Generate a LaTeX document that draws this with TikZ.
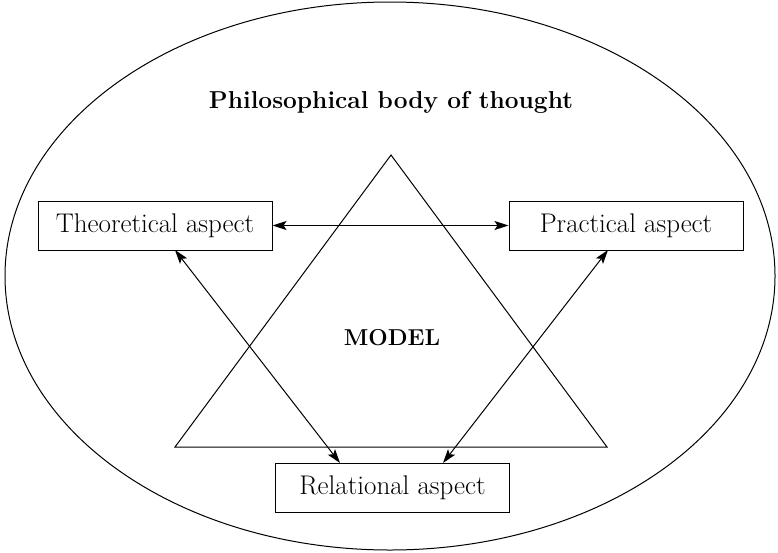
\documentclass[tikz,border=0pt]{standalone}
\usetikzlibrary{arrows.meta}
\begin{document}
\begin{tikzpicture}[x=1pt,y=-1pt,
  line width=1pt,
  aspectbox/.style={draw, minimum width=234pt, minimum height=49pt, inner sep=0pt, font=\fontsize{27}{31}\selectfont},
  titlelabel/.style={font=\fontsize{24.5}{29}\selectfont\bfseries},
  modellabel/.style={font=\fontsize{23}{27}\selectfont\bfseries},
  biarrow/.style={{Stealth[length=14pt,width=9pt,inset=3pt]}-{Stealth[length=14pt,width=9pt,inset=3pt]}}]
\useasboundingbox (0,0) rectangle (778,552);
\draw (390,276) ellipse [x radius=385, y radius=274];
\draw (391,155) -- (607,447) -- (175,447) -- cycle;
\node[titlelabel] (title) at (391,102) {Philosophical body of thought};
\node[modellabel] (model) at (392,338) {MODEL};
\node[aspectbox] (theo) at (155,225.5) {Theoretical aspect};
\node[aspectbox] (prac) at (626,225.5) {Practical aspect};
\node[aspectbox] (rel) at (392.5,488) {Relational aspect};
\coordinate (t1) at (175,250);
\coordinate (r1) at (340,463);
\coordinate (p1) at (608,250);
\coordinate (r2) at (443,463);
\draw[biarrow] (theo.east) -- (prac.west);
\draw[biarrow] (t1) -- (r1);
\draw[biarrow] (p1) -- (r2);
\end{tikzpicture}
\end{document}
